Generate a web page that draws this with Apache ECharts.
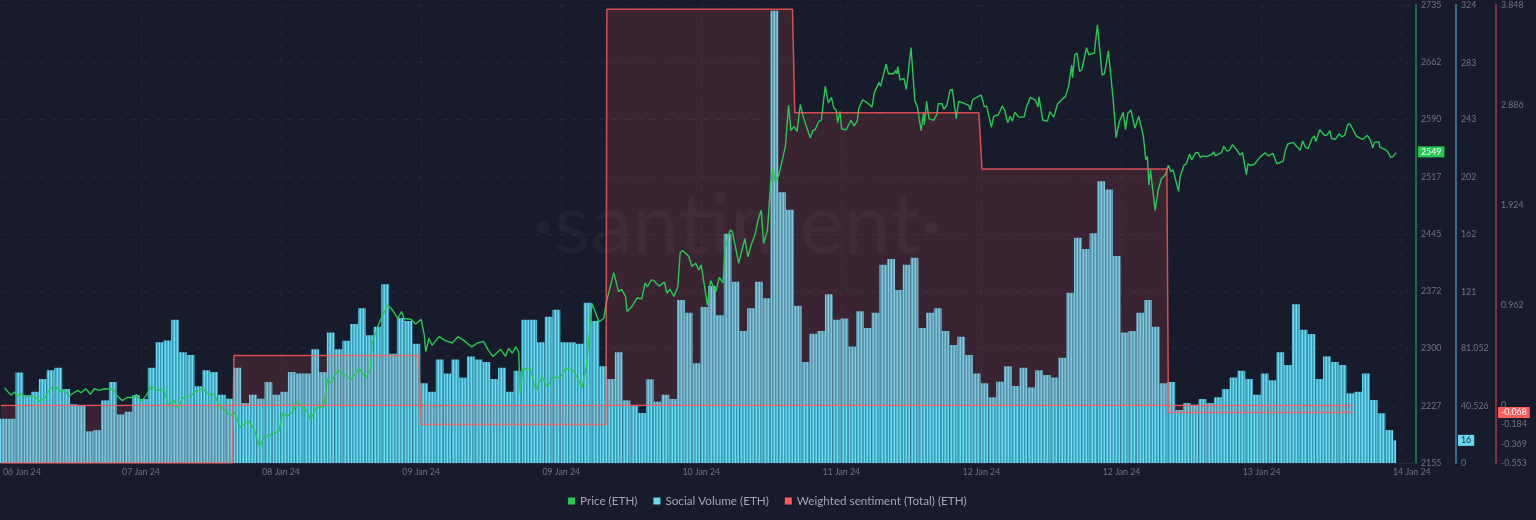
<!DOCTYPE html>
<html>
<head>
<meta charset="utf-8">
<title>ETH price, social volume, weighted sentiment</title>
<script src="https://cdn.jsdelivr.net/npm/echarts@6/dist/echarts.min.js"></script>
<style>
  html, body { margin: 0; padding: 0; background: #181b2b; }
  #chart { width: 1536px; height: 520px; }
</style>
</head>
<body>
<div id="chart"></div>
<script>
// social volume, one bar per hour
const socialVolume = [
  31.3, 31.3, 64, 48, 50.4, 59.4, 65.6, 67.4, 52.3, 41.5, 40.3, 22.4, 23.3, 44.3, 57.3, 34.4, 36.3, 48, 45.3, 67.4,
  85.4, 86.6, 101.4, 78.3, 76.4, 54.3, 65.6, 64.3, 48.3, 45.5, 67.4, 42.4, 48.3, 45.5, 57.3, 48.3, 50.4, 64.3, 63.4, 63.4,
  80.4, 64.3, 92.4, 80.4, 86.5, 98.3, 109.4, 90.3, 96.4, 126.4, 77.3, 102.6, 100.4, 84.4, 56.4, 50.4, 73.3, 63.4, 73.3, 60.4,
  75.4, 73.3, 71.5, 59.4, 67.4, 50.4, 65.3, 101.4, 101.4, 85.4, 103.5, 108.4, 85.4, 85.4, 84.4, 113.4, 100.4, 68.4, 59.4, 78.3,
  44.3, 40.3, 35.4, 59.2, 43.4, 48.3, 45.3, 115.3, 106.3, 70.5, 110.4, 125.2, 104.5, 162.2, 128.3, 93.4, 109.4, 128.3, 116.5, 320,
  191.5, 179.2, 111.3, 71.4, 91.5, 93.4, 119.3, 101.4, 102.3, 82.5, 107.3, 95.5, 106.3, 140.3, 144.3, 122.4, 140.3, 145.2, 95.5, 106.3,
  109.4, 93.4, 83.5, 89.3, 76.4, 63.4, 56.4, 46.5, 57.5, 68.4, 54.5, 67.4, 53.5, 65.6, 62.3, 60.4, 74.5, 120.5, 159.4, 151.4,
  162.5, 199.3, 193.4, 146.4, 92.4, 93.4, 106.3, 115.3, 96.4, 56.4, 57.3, 37.5, 42.4, 41.2, 45.3, 42.4, 46.5, 52.3, 60.4, 65.3,
  59.4, 48.3, 63.4, 58.5, 78.3, 69.3, 112.3, 94.3, 91.3, 59.4, 75.4, 71.4, 69.3, 49.3, 50.4, 63.4, 44.6, 35.2, 23.3
];
const socialHourStep = 0.9978;
// the newest hour is still filling up, its bar is narrower
const lastSocialValue = 16;
const lastSocialHour = 178.3;

const priceHours = [
  0.1, 0.9, 1.4, 1.7, 2.2, 2.7, 3.5, 4.1, 4.6, 5.2, 6.0, 6.7, 7.3, 7.7, 8.4, 9.0, 9.5, 9.9, 10.5, 11.1,
  11.6, 12.2, 12.9, 14.1, 14.4, 15.2, 15.8, 16.7, 17.0, 17.6, 18.3, 18.9, 19.7, 20.5, 21.1, 21.8, 22.3, 22.9, 24.0, 24.4,
  25.5, 26.3, 27.0, 27.6, 28.7, 29.3, 29.6, 30.3, 31.0, 31.4, 32.1, 32.8, 33.4, 34.0, 34.6, 35.3, 35.7, 36.3, 37.0, 37.7,
  38.3, 38.8, 39.3, 40.0, 40.6, 41.0, 41.5, 41.9, 42.8, 44.0, 44.5, 45.5, 46.4, 47.0, 47.2, 48.1, 49.2, 49.8, 50.5, 51.0,
  51.3, 52.2, 52.8, 53.5, 53.9, 54.1, 54.5, 54.9, 55.8, 56.6, 57.5, 58.2, 59.0, 60.0, 60.7, 61.5, 62.1, 62.7, 63.7, 64.3,
  64.7, 65.2, 65.6, 66.0, 66.2, 66.5, 67.5, 68.2, 69.0, 69.7, 70.3, 71.4, 72.0, 72.9, 73.5, 74.1, 74.7, 75.4, 76.3, 76.9,
  77.3, 78.2, 78.8, 79.2, 79.7, 79.9, 80.5, 81.2, 81.8, 82.2, 82.5, 83.0, 83.3, 84.0, 84.7, 85.0, 85.4, 85.9, 86.4, 86.7,
  87.0, 87.8, 88.2, 88.7, 89.1, 89.4, 90.2, 90.6, 91.3, 91.7, 92.2, 92.5, 93.1, 93.4, 94.2, 95.0, 95.4, 95.8, 96.3, 96.7,
  97.1, 97.4, 97.9, 98.3, 98.6, 98.9, 99.3, 99.8, 100.2, 100.6, 100.9, 101.3, 101.7, 102.1, 102.5, 103.2, 103.4, 103.7, 104.0, 104.5,
  104.8, 105.3, 105.7, 106.1, 106.4, 106.7, 106.9, 107.2, 107.4, 108.0, 108.6, 109.0, 109.4, 109.6, 110.1, 110.7, 111.3, 111.6, 112.2, 112.4,
  113.1, 113.4, 114.1, 114.3, 114.5, 114.6, 114.9, 115.4, 115.7, 116.3, 116.8, 117.1, 117.6, 117.9, 118.0, 118.3, 118.6, 119.2, 119.6, 119.8,
  120.3, 120.5, 120.9, 121.3, 121.6, 122.1, 122.4, 123.0, 123.7, 123.9, 124.2, 124.7, 125.3, 125.7, 126.0, 126.6, 126.9, 127.5, 128.0, 128.3,
  128.7, 129.0, 129.3, 129.6, 130.1, 130.8, 131.1, 131.6, 132.2, 132.6, 132.7, 133.2, 133.8, 134.1, 134.6, 135.1, 135.6, 136.1, 136.5, 136.9,
  137.0, 137.3, 137.6, 137.9, 138.2, 138.8, 139.1, 139.8, 140.2, 140.8, 141.1, 141.6, 142.2, 142.3, 142.6, 143.0, 143.5, 143.8, 144.1, 144.5,
  145.0, 145.5, 146.1, 146.4, 146.6, 146.8, 147.0, 147.6, 148.0, 148.4, 148.9, 149.3, 149.6, 149.9, 150.6, 150.8, 151.3, 151.6, 152.0, 152.3,
  152.8, 153.1, 153.4, 153.8, 154.2, 154.9, 155.1, 155.3, 156.1, 156.4, 156.8, 157.1, 157.5, 158.1, 158.5, 158.8, 159.3, 159.5, 159.8, 160.3,
  161.1, 161.7, 162.1, 162.7, 163.2, 164.0, 164.3, 164.6, 165.3, 166.2, 166.5, 166.8, 167.2, 167.7, 168.0, 168.2, 168.7, 169.3, 169.6, 170.0,
  170.2, 170.4, 170.7, 171.2, 171.5, 171.9, 172.3, 172.6, 173.4, 173.9, 174.2, 174.8, 175.2, 175.5, 175.7, 176.3, 176.4, 177.3, 177.8, 178.1, 178.5
];
const priceValues = [
  2250, 2241, 2245, 2239, 2243, 2239, 2240, 2238, 2233, 2237, 2250, 2251, 2245, 2247, 2240, 2244, 2247, 2244, 2249, 2242,
  2249, 2247, 2249, 2248, 2241, 2234, 2238, 2238, 2242, 2233, 2241, 2252, 2247, 2248, 2228, 2234, 2225, 2237, 2240, 2245,
  2249, 2242, 2242, 2228, 2218, 2215, 2219, 2200, 2206, 2208, 2197, 2176, 2188, 2190, 2192, 2196, 2218, 2214, 2220, 2233,
  2225, 2222, 2210, 2224, 2226, 2226, 2262, 2256, 2273, 2264, 2260, 2275, 2263, 2274, 2307, 2332, 2355, 2349, 2338, 2347,
  2338, 2337, 2331, 2337, 2317, 2296, 2313, 2304, 2315, 2310, 2307, 2315, 2310, 2302, 2307, 2309, 2298, 2290, 2299, 2290,
  2300, 2294, 2302, 2296, 2243, 2274, 2275, 2247, 2264, 2251, 2263, 2264, 2275, 2273, 2264, 2250, 2279, 2357, 2334, 2338,
  2361, 2396, 2372, 2375, 2366, 2347, 2353, 2364, 2363, 2383, 2378, 2387, 2386, 2379, 2384, 2370, 2375, 2366, 2378, 2421,
  2424, 2417, 2404, 2408, 2399, 2406, 2355, 2386, 2372, 2390, 2383, 2429, 2450, 2448, 2408, 2439, 2416, 2431, 2444, 2463,
  2475, 2433, 2450, 2509, 2528, 2511, 2518, 2539, 2556, 2608, 2576, 2581, 2575, 2609, 2593, 2572, 2567, 2576, 2577, 2588,
  2589, 2632, 2611, 2618, 2605, 2602, 2586, 2600, 2578, 2577, 2589, 2582, 2588, 2604, 2615, 2611, 2606, 2624, 2637, 2632,
  2660, 2648, 2648, 2652, 2648, 2657, 2640, 2642, 2628, 2681, 2613, 2607, 2576, 2598, 2583, 2613, 2591, 2589, 2596, 2610,
  2610, 2603, 2608, 2627, 2628, 2591, 2613, 2611, 2608, 2602, 2615, 2618, 2621, 2606, 2607, 2580, 2594, 2596, 2607, 2602,
  2586, 2594, 2588, 2599, 2593, 2593, 2606, 2618, 2615, 2606, 2619, 2589, 2588, 2600, 2593, 2610, 2615, 2619, 2632, 2659,
  2643, 2672, 2674, 2651, 2653, 2681, 2672, 2674, 2710, 2646, 2648, 2677, 2617, 2617, 2567, 2587, 2599, 2577, 2598, 2602,
  2579, 2594, 2568, 2539, 2543, 2507, 2526, 2475, 2501, 2515, 2520, 2532, 2524, 2526, 2499, 2518, 2532, 2534, 2546, 2539,
  2548, 2548, 2542, 2544, 2543, 2546, 2549, 2544, 2548, 2556, 2550, 2551, 2558, 2551, 2545, 2548, 2520, 2534, 2532, 2533,
  2543, 2548, 2544, 2547, 2534, 2537, 2551, 2559, 2561, 2551, 2563, 2556, 2553, 2566, 2569, 2562, 2577, 2570, 2570, 2576,
  2566, 2568, 2565, 2572, 2568, 2570, 2584, 2584, 2569, 2566, 2565, 2570, 2564, 2554, 2561, 2562, 2555, 2551, 2542, 2543, 2548
];

// daily sentiment, steps with a short ramp between days
const sentimentHours = [-0.38, 29.3, 29.5, 53.2, 53.5, 77.2, 77.3, 101.1, 101.4, 125.0, 125.4, 149.1, 149.3, 172.9];
const sentimentValues = [-0.553, -0.553, 0.48, 0.48, -0.184, -0.184, 3.807, 3.807, 2.813, 2.813, 2.272, 2.272, -0.068, -0.068];
const zeroLineHours = [-0.38, 172.9];
const zeroLineValues = [0, 0];

const tickHours = [17.58, 35.54, 53.5, 71.46, 89.42, 107.37, 125.33, 143.29, 161.25, 179.2];
const labelHours = [2.31, 17.58, 35.54, 53.5, 71.46, 89.42, 107.37, 125.33, 143.29, 161.25, 180.5];
const dateLabels = ['06 Jan 24', '07 Jan 24', '08 Jan 24', '09 Jan 24', '09 Jan 24', '10 Jan 24', '11 Jan 24', '12 Jan 24', '12 Jan 24', '13 Jan 24', '14 Jan 24'];

const priceTicks = [2155, 2227, 2300, 2372, 2445, 2517, 2590, 2662, 2735];
const socialTicks = [0, 40.526, 81.052, 121, 162, 202, 243, 283, 324];
const sentimentTicks = [-0.553, -0.369, -0.184, 0, 0.962, 1.924, 2.886, 3.848];

const GREEN = '#26c953';
const BLUE = '#68dbf4';
const RED = '#ff5b5b';
const TICK_COLOR = '#6f7383';
const FONT = 'Lato';
const TICK_SIZE = 8.8;

const chart = echarts.init(document.getElementById('chart'));

// the bars are finely striped in the original
function stripeTile() {
  const c = document.createElement('canvas');
  c.width = 3;
  c.height = 4;
  const ctx = c.getContext('2d');
  ['#66dcf5', '#3f9bb6', '#52b8d2'].forEach((col, i) => {
    ctx.fillStyle = col;
    ctx.fillRect(i, 0, 1, 4);
  });
  return c;
}
const stripes = { image: stripeTile(), repeat: 'repeat' };

function yAxis(min, max, ticks, color, offset) {
  return {
    type: 'value',
    position: 'right',
    min: min,
    max: max,
    offset: offset,
    axisLine: { show: true, onZero: false, lineStyle: { color: color, width: 2 } },
    axisTick: { show: false, customValues: ticks },
    axisLabel: {
      customValues: ticks,
      margin: 5,
      color: TICK_COLOR,
      fontFamily: FONT,
      fontSize: TICK_SIZE,
      formatter: v => String(v)
    },
    splitLine: { show: false }
  };
}

const priceAxis = yAxis(2155, 2735, priceTicks, '#1f6b3e', 0);
priceAxis.splitLine = { show: true, lineStyle: { color: '#252839', type: [5, 8], width: 1 } };

chart.setOption({
  backgroundColor: '#181b2b',
  animation: false,
  grid: { left: 0, top: 5, width: 1416, height: 458 },
  legend: {
    left: 563,
    top: 490,
    itemWidth: 7,
    itemHeight: 7,
    itemGap: 16,
    icon: 'rect',
    textStyle: { color: '#a2a6b2', fontFamily: FONT, fontSize: 11.7 },
    data: [
      { name: 'Price (ETH)', itemStyle: { color: GREEN } },
      { name: 'Social Volume (ETH)', itemStyle: { color: BLUE } },
      { name: 'Weighted sentiment (Total) (ETH)', itemStyle: { color: RED } }
    ]
  },
  xAxis: [
    {
      type: 'value',
      min: -0.38,
      max: 181.04,
      axisLine: { show: true, onZero: false, lineStyle: { color: '#262a3b' } },
      axisTick: { show: false, customValues: tickHours },
      axisLabel: {
        customValues: labelHours,
        margin: 5,
        color: TICK_COLOR,
        fontFamily: FONT,
        fontSize: TICK_SIZE,
        formatter: v => dateLabels[labelHours.indexOf(v)]
      },
      splitLine: { show: true, lineStyle: { color: '#252839', type: [5, 8], width: 1 } }
    },
    // same scale, only so the last bar can have its own width
    { type: 'value', min: -0.38, max: 181.04, show: false }
  ],
  yAxis: [
    priceAxis,
    yAxis(0, 324, socialTicks, '#396a80', 40),
    yAxis(-0.553, 3.848, sentimentTicks, '#80333f', 80)
  ],
  series: [
    {
      name: 'Social Volume (ETH)',
      type: 'bar',
      yAxisIndex: 1,
      barWidth: 7.79,
      itemStyle: { color: stripes },
      data: socialVolume.map((v, i) => [i * socialHourStep, v])
    },
    {
      name: 'Social Volume (ETH)',
      type: 'bar',
      xAxisIndex: 1,
      yAxisIndex: 1,
      barWidth: 3,
      itemStyle: { color: stripes },
      data: [[lastSocialHour, lastSocialValue]]
    },
    {
      name: 'Price (ETH)',
      type: 'line',
      yAxisIndex: 0,
      symbol: 'none',
      lineStyle: { color: GREEN, width: 1.4 },
      itemStyle: { color: GREEN },
      data: priceHours.map((h, i) => [h, priceValues[i]])
    },
    {
      name: 'Sentiment zero line',
      type: 'line',
      yAxisIndex: 2,
      symbol: 'none',
      silent: true,
      lineStyle: { color: RED, width: 1.3, opacity: 0.9 },
      data: zeroLineHours.map((h, i) => [h, zeroLineValues[i]])
    },
    {
      name: 'Weighted sentiment (Total) (ETH)',
      type: 'line',
      yAxisIndex: 2,
      symbol: 'none',
      lineStyle: { color: RED, width: 1.5, opacity: 0.8 },
      itemStyle: { color: RED },
      areaStyle: { color: RED, opacity: 0.15 },
      data: sentimentHours.map((h, i) => [h, sentimentValues[i]])
    }
  ]
});

// watermark and the three last-value badges
function badge(text, axisIndex, value, x, bg, fill) {
  return {
    type: 'text',
    z: 50,
    x: x,
    y: chart.convertToPixel({ yAxisIndex: axisIndex }, value),
    style: {
      text: text,
      fill: fill,
      backgroundColor: bg,
      padding: [1, 3],
      font: TICK_SIZE + 'px ' + FONT,
      verticalAlign: 'middle'
    }
  };
}

chart.setOption({
  graphic: [
    {
      type: 'text',
      z: 0,
      x: 737,
      y: 226,
      silent: true,
      style: {
        text: '·santiment·',
        fill: 'rgba(255,255,255,0.035)',
        font: '84px ' + FONT,
        align: 'center',
        verticalAlign: 'middle'
      }
    },
    badge('2549', 0, 2549, 1418, GREEN, '#ffffff'),
    badge('16', 1, 16, 1458, BLUE, '#1b2030'),
    badge('-0.068', 2, -0.068, 1498, RED, '#ffffff')
  ]
});
</script>
</body>
</html>
